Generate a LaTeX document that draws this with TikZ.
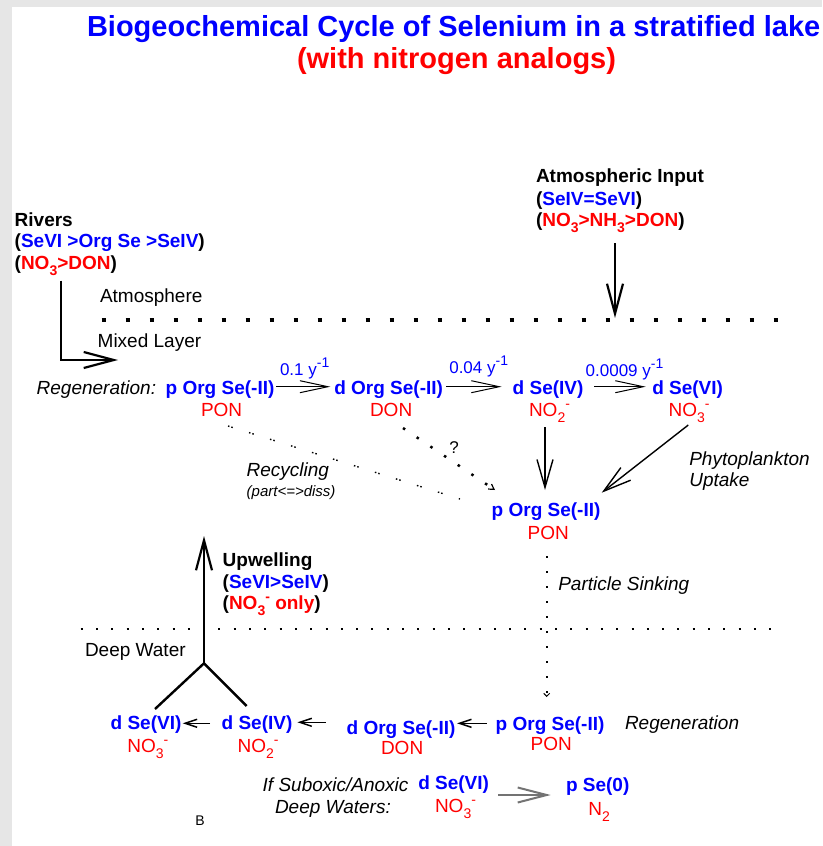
\documentclass[tikz,border=0pt]{standalone}
\usepackage{fontspec}
\setmainfont{Liberation Sans}
\usetikzlibrary{arrows.meta}
\definecolor{seblue}{RGB}{0,0,255}
\definecolor{nred}{RGB}{255,0,0}
\definecolor{bordergray}{HTML}{E6E6E6}
\definecolor{arrgray}{gray}{0.45}
\newcommand\mysub[1]{\raisebox{-6.5pt}{\fontsize{14}{14}\selectfont #1}}
\newcommand\mysup[1]{\raisebox{7.5pt}{\fontsize{14}{14}\selectfont #1}}
\tikzset{
  txt/.style={inner sep=0pt, outer sep=0pt, anchor=base west, font=\fontsize{19}{23}\selectfont},
  se/.style={txt, text=seblue, font=\fontsize{19}{23}\selectfont\bfseries},
  nit/.style={txt, text=nred},
  itx/.style={txt, font=\fontsize{19}{23}\selectfont\itshape},
  hd/.style={txt, font=\fontsize{19}{23}\selectfont\bfseries},
  rate/.style={txt, text=seblue, font=\fontsize{17}{20}\selectfont},
  ttl/.style={txt, font=\fontsize{29}{34}\selectfont\bfseries},
  bigarr/.style={line width=2.2pt, -{Straight Barb[length=30pt,width=16pt]}},
  midarr/.style={line width=1.4pt, -{Straight Barb[length=28pt,width=16pt]}},
  ratearr/.style={line width=1pt, -{Straight Barb[length=28pt,width=12pt]}},
  smarr/.style={line width=1.5pt, -{Straight Barb[length=12pt,width=8pt]}},
  grayarr/.style={line width=2pt, draw=arrgray, -{Straight Barb[length=29pt,width=15pt]}},
  layerA/.style={line width=4pt, dash pattern=on 4pt off 20pt},
  layerB/.style={line width=2pt, dash pattern=on 2pt off 13.3pt},
  recyc/.style={line width=1.4pt, dash pattern=on 1.5pt off 2pt on 1.5pt off 17pt},
  donline/.style={line width=2.5pt, dash pattern=on 2.5pt off 14pt},
  sinkline/.style={line width=2pt, dash pattern=on 2pt off 13pt},
}
\begin{document}
\begin{tikzpicture}[x=1pt,y=-1pt]
\fill[bordergray] (0,0) rectangle (822,846);
\fill[white] (12,7) rectangle (822,846);
\useasboundingbox (0,0) rectangle (822,846);

% title
\node[ttl, text=seblue] (title1) at (87,36.5) {Biogeochemical Cycle of Selenium in a stratified lake};
\node[ttl, text=nred] (title2) at (297,68) {(with nitrogen analogs)};

% rivers
\node[hd] (rivers) at (14.7,226) {Rivers};
\node[hd] (riv2) at (14.7,247) {(\textcolor{seblue}{SeVI >Org Se >SeIV})};
\node[hd] (riv3) at (14.7,269) {(\textcolor{nred}{NO\mysub{3}>DON})};

% atmospheric input
\node[hd] (atmin) at (536,182.7) {Atmospheric Input};
\node[hd] (atm2) at (536,205) {(\textcolor{seblue}{SeIV=SeVI})};
\node[hd] (atm3) at (536,226) {(\textcolor{nred}{NO\mysub{3}>NH\mysub{3}>DON})};

% layers
\node[txt] (atmos) at (100,302.7) {Atmosphere};
\node[txt] (mixed) at (97.7,347.7) {Mixed Layer};
\draw[layerA] (101.5,320) -- (782,320);

\coordinate (rivE) at (118,360);
\coordinate (atmE) at (615,318);
\draw[bigarr] ([shift={(46.3,11.7)}]riv3.base west) |- (rivE);
\draw[bigarr] ([shift={(79,17)}]atm3.base west) -- (atmE);

% mixed-layer row
\node[itx] (regen) at (36.7,394.3) {Regeneration:};
\node[se] (pOrgA) at (165.7,394) {p Org Se(-II)};
\node[nit] (PONA) at (201,416) {PON};
\node[se] (dOrgA) at (334.3,394) {d Org Se(-II)};
\node[nit] (DONA) at (370,416) {DON};
\node[se] (dSeIVA) at (512.7,394) {d Se(IV)};
\node[nit] (NO2A) at (529,416) {NO\mysub{2}\mysup{-}};
\node[se] (dSeVIA) at (652.3,394) {d Se(VI)};
\node[nit] (NO3A) at (668.7,416) {NO\mysub{3}\mysup{-}};

\node[rate] (rate1) at (280,375) {0.1 y\mysup{-1}};
\node[rate] (rate2) at (449.3,373.3) {0.04 y\mysup{-1}};
\node[rate] (rate3) at (585.7,376) {0.0009 y\mysup{-1}};

\draw[ratearr] ([shift={(2,-7.3)}]pOrgA.base east) -- ([shift={(-4,-7.3)}]dOrgA.base west);
\draw[ratearr] ([shift={(3,-7.3)}]dOrgA.base east) -- ([shift={(-11,-7.3)}]dSeIVA.base west);
\draw[ratearr] ([shift={(10.7,-7.3)}]dSeIVA.base east) -- ([shift={(-6.6,-7.3)}]dSeVIA.base west);

% particulate in mixed layer
\node[se] (pOrgB) at (491.7,516.7) {p Org Se(-II)};
\node[nit] (PONB) at (527.7,539) {PON};

\draw[midarr] ([shift={(16,11)}]NO2A.base west) -- ([shift={(53.3,-26.7)}]pOrgB.base west);
\draw[midarr] ([shift={(19.6,9)}]NO3A.base west) -- ([shift={(110,-24)}]pOrgB.base west);

\node[itx] (phyto) at (689.3,465) {Phytoplankton};
\node[itx] (uptake) at (689.3,486.7) {Uptake};

\draw[recyc] ([shift={(27,10)}]PONA.base west) -- ([shift={(-31.7,-17.7)}]pOrgB.base west);
\draw[donline, -{Straight Barb[length=5pt,width=6pt,line width=1.2pt]}] ([shift={(33,12)}]DONA.base west) -- ([shift={(3.3,-26.7)}]pOrgB.base west);
\node[txt, font=\fontsize{17}{20}\selectfont] (qm) at (449.3,453) {?};

\node[itx] (recycling) at (246.7,476.7) {Recycling};
\node[txt, font=\fontsize{15}{18}\selectfont\itshape] (partdiss) at (246.7,496.7) {(part<=>diss)};

% upwelling
\node[hd] (upw) at (222.7,566) {Upwelling};
\node[hd] (upw2) at (222.7,588.3) {(\textcolor{seblue}{SeVI>SeIV})};
\node[hd] (upw3) at (222.7,609.3) {(\textcolor{nred}{NO\mysub{3}\mysup{-} only})};

% deep layer
\draw[layerB] (80.7,629.3) -- (784,629.3);
\node[txt] (deep) at (85,656.7) {Deep Water};
\node[itx] (sinking) at (558.3,590.7) {Particle Sinking};

% deep row
\node[se] (dSeVIC) at (110.7,729.3) {d Se(VI)};
\node[nit] (NO3C) at (127.3,752.3) {NO\mysub{3}\mysup{-}};
\node[se] (dSeIVC) at (221.7,729) {d Se(IV)};
\node[nit] (NO2C) at (237.7,752) {NO\mysub{2}\mysup{-}};
\node[se] (dOrgC) at (346.7,734) {d Org Se(-II)};
\node[nit] (DONC) at (381,754.3) {DON};
\node[se] (pOrgD) at (495.7,730) {p Org Se(-II)};
\node[nit] (POND) at (530.7,750.7) {PON};
\node[itx] (regen2) at (625,729.3) {Regeneration};

\draw[sinkline, -{Straight Barb[length=3pt,width=6pt,line width=1pt]}] ([shift={(19,17)}]PONB.base west) -- ([shift={(51,-33)}]pOrgD.base west);

\draw[smarr] ([shift={(-11.7,-5.7)}]dSeIVC.base west) -- ([shift={(1.3,-6)}]dSeVIC.base east);
\draw[smarr] ([shift={(-21,-11.7)}]dOrgC.base west) -- ([shift={(5,-6.7)}]dSeIVC.base east);
\draw[smarr] ([shift={(-9,-6.7)}]pOrgD.base west) -- ([shift={(1.7,-10.7)}]dOrgC.base east);

% upwelling Y
\coordinate (ujoin) at (204,663.3);
\coordinate (utop) at (204,536);
\draw[line width=2.4pt] ([shift={(44.3,-20.3)}]dSeVIC.base west) -- (ujoin) -- ([shift={(25,-23)}]dSeIVC.base west);
\draw[bigarr] (ujoin) -- (utop);

% suboxic
\node[itx] (ifsub) at (262.7,791.7) {If Suboxic/Anoxic};
\node[itx] (deepw) at (275,813.3) {Deep Waters:};
\node[se] (dSeVIE) at (418.3,789.3) {d Se(VI)};
\node[nit] (NO3E) at (435,812.3) {NO\mysub{3}\mysup{-}};
\node[se] (pSe0) at (566,791.7) {p Se(0)};
\node[nit] (N2) at (588.3,815) {N\mysub{2}};
\draw[grayarr] ([shift={(9.3,5.7)}]dSeVIE.base east) -- ([shift={(-15.3,3.3)}]pSe0.base west);

\node[txt, font=\fontsize{14}{17}\selectfont] (labB) at (195.3,825) {B};
\end{tikzpicture}
\end{document}
